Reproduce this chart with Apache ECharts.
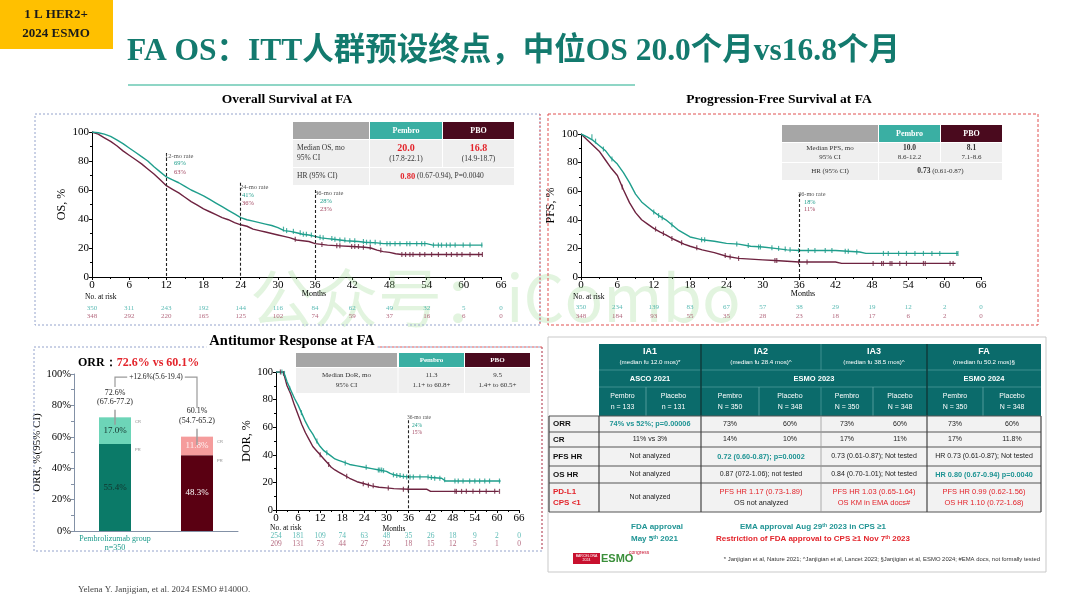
<!DOCTYPE html>
<html>
<head>
<meta charset="utf-8">
<script src="https://cdn.jsdelivr.net/npm/echarts/dist/echarts.min.js"></script>
<style>
html,body{margin:0;padding:0;background:#ffffff;}
#chart{width:1080px;height:608px;}
</style>
</head>
<body>
<div id="chart"></div>
<script>
// ================= DATA =================
const kmMonths = [0,6,12,18,24,30,36,42,48,54,60,66];

// Overall survival (month, %)
const osPembro = [[0,100],[1,99.5],[2,98.5],[3,97],[4,94.5],[5,92],[6,89],[7,86],[8,83],[9,80],[10,76],[11,72.5],[12,69],[13,67],[14,65],[15,62.5],[16,60],[17,58],[18,56],[19,53.5],[20,51],[21,48.5],[22,46],[23,43.5],[24,41],[25,39.5],[26,38.5],[27,37.5],[28,36.5],[29,35.5],[30,34],[31,32],[32,31.5],[33,30.5],[34,29.5],[35,29],[36,28],[37,27],[38,26.5],[39,26],[40,25.5],[41,25],[43,24.5],[44,24],[46,23.5],[47,23],[54,23],[55,22],[63,22]];
const osPbo = [[0,100],[1,98.5],[2,96],[3,93.5],[4,90.5],[5,87],[6,84],[7,81],[8,78],[9,74.5],[10,71],[11,67],[12,63],[13,60.5],[14,58],[15,55],[16,52],[17,49.5],[18,47],[19,45],[20,43],[21,41],[22,39.5],[23,37.5],[24,36],[25,35],[26,33],[27,32],[28,31],[29,30],[30,29],[31,28],[32,27],[33,25.5],[34,25],[35,24.5],[36,23],[37,22.5],[38,22],[40,21.5],[42,21],[44,20.5],[45,20],[46,18.5],[47,17.5],[48,17],[49,16],[50,15.5],[63,15.5]];
const osCensorPembro = [[30.9,33],[31.4,32],[32.5,31.5],[33.6,30.5],[34.1,29.5],[34.6,29.5],[35.4,29],[36.8,27.5],[37.3,27],[38.7,26.5],[39.2,26],[40,25.5],[40.8,25.5],[41.6,25],[42.4,25],[43.8,24.5],[44.3,24],[44.9,24],[45.7,24],[46.5,23.5],[47.6,23],[48.1,23],[48.9,23],[49.7,23],[50.8,23],[51.3,23],[52.4,23],[53.2,23],[53.7,23],[55.1,22],[55.9,22],[56.4,22],[57.2,22],[57.8,22],[58.6,22],[59.9,22],[61,22],[62.9,22]];
const osCensorPbo = [[32.8,26],[37.1,22.5],[39.5,21.5],[40,21.5],[41.9,21],[42.4,21],[43,21],[43.8,20.5],[44.9,20.5],[46.6,18.5],[50,15.5],[50.6,15.5],[51.3,15.5],[51.8,15.5],[52.9,15.5],[53.7,15.5],[54.8,15.5],[55.9,15.5],[57.2,15.5],[58,15.5],[58.9,15.5],[59.7,15.5],[61,15.5],[62.4,15.5],[63,15.5]];
const osRiskPembro = [350,311,243,192,144,116,84,62,49,32,5,0];
const osRiskPbo = [348,292,220,165,125,102,74,59,37,16,6,0];

// Progression-free survival
const pfsPembro = [[0,100],[1,98],[2,95.5],[3,92],[4,88.5],[5,83],[6,79],[7,73],[8,66],[9,58],[10,52.5],[11,49],[12,45.5],[13,42.5],[14,40],[15,36.5],[16,33],[17,30.5],[18,28],[19,27],[20,26],[22,25],[24,23.5],[26,23],[28,21.5],[30,21],[32,20],[34,19],[36,18.5],[42,18.5],[44,18],[46,17.5],[47,16.5],[62.2,16.5]];
const pfsPbo = [[0,100],[1,96],[2,92],[3,88],[4,82],[5,76],[6,71],[7,61],[8,52],[9,45],[10,40],[11,37],[12,34],[13,31.5],[14,29.5],[15,27],[16,25],[17,23],[18,21.5],[20,19],[22,17],[24,14.5],[26,13],[28,12.5],[30,12],[32,11.5],[34,11],[36,10.5],[42,10.5],[43,9.5],[61.8,9.5]];
const pfsCensorPembro = [[1.8,98],[2.4,95],[3.7,89.5],[5.1,82.5],[12,45.5],[12.8,43],[13.4,41.5],[15,36.5],[19.9,26],[20.4,26],[25.7,23],[27.6,22],[29.3,21],[29.6,21],[31.5,20.5],[32.6,20],[33.7,19.5],[34.5,19],[35.9,18.5],[37.5,18.5],[38.6,18.5],[40.3,18.5],[41.4,18.5],[43.6,18],[44.1,18],[45.5,17.5],[49.9,16.5],[50.7,16.5],[52.4,16.5],[53.7,16.5],[55.1,16.5],[56.5,16.5],[57.9,16.5],[59.2,16.5],[62,16.5],[62.2,16.5]];
const pfsCensorPbo = [[6.8,63],[12.3,33.5],[13.6,30.5],[15,27],[16.6,24],[19.1,20.5],[23.8,15],[24.6,14],[26,13],[32,11.5],[32.3,11.5],[35.9,10.5],[37.3,10.5],[48.2,9.5],[49.6,9.5],[49.9,9.5],[51,9.5],[51.3,9.5],[52.6,9.5],[53.7,9.5],[56.5,9.5],[56.8,9.5],[60.9,9.5],[61.4,9.5]];
const pfsRiskPembro = [350,234,139,83,67,57,38,29,19,12,2,0];
const pfsRiskPbo = [348,184,93,55,35,28,23,18,17,6,2,0];

// Duration of response
const dorPembro = [[0,100],[2,100],[2.5,97],[3,93],[4,87],[5,81],[6,76],[7,70],[8,64],[9,59],[10,55],[11,50],[12,46],[13,43],[14,41],[15,39],[16,37],[17,36],[18,35],[20,33],[22,32],[24,31],[26,30],[28,29],[30,28],[31,26.5],[32,25.5],[34,24.5],[36,24],[41,24],[42,23.5],[45,23],[46,21],[61,21]];
const dorPbo = [[0,100],[2,100],[3,90],[4,84],[5,76],[6,69],[7,62],[8,56],[9,51],[10,46],[11,43],[12,40],[13,37],[14,34],[15,31],[16,29],[17,27.5],[18,26],[20,23],[22,20.5],[24,19],[26,17.5],[28,16.5],[30,16],[32,15.5],[36,15],[41,15],[42,13.5],[60.5,13.5]];
const dorCensorPembro = [[1.6,100],[2.3,99],[3.7,88],[6.9,70.5],[11.1,50],[13.8,41.5],[18.8,34],[24.5,31],[27.8,29],[28.2,29],[28.7,29],[29.2,28.5],[31.9,25.5],[32.8,25],[33.7,25],[34.6,24.5],[35.5,24],[36.4,24],[37.3,24],[39.1,24],[41.3,24],[42.2,23.5],[43.1,23],[44.5,23],[45.8,22],[48.6,21],[49.5,21],[50.8,21],[52.6,21],[54,21],[55.3,21],[56.7,21],[58,21],[60.7,21]];
const dorCensorPbo = [[1.2,100],[2.1,99],[12,40],[14.3,33],[19.2,24.5],[23.7,19],[25.1,18],[26.4,17.5],[30.5,16],[34.6,15],[35.9,15],[48.6,13.5],[49,13.5],[50.4,13.5],[51.7,13.5],[53.5,13.5],[55.3,13.5],[57.1,13.5],[59.4,13.5],[60.7,13.5]];
const dorRiskPembro = [254,181,109,74,63,48,35,26,18,9,2,0];
const dorRiskPbo = [209,131,73,44,27,23,18,15,12,5,1,0];

// Objective response rate
const orrGroups = ['Pembrolizumab group\nn=350','Placebo group\nN=348'];
const orrPR = [55.4, 48.3];
const orrCR = [17.0, 11.8];
const orrTotal = [72.6, 60.1];
const orrCI = [[67.6,77.2],[54.7,65.2]];
const orrDiff = '+12.6%(5.6-19.4)';

// Summary table
const iaNames = ['IA1','IA2','IA3','FA'];
const iaFu = ['(median fu 12.0 mos)*','(median fu 28.4 mos)^','(median fu 38.5 mos)^','(median fu 50.2 mos)§'];
const congresses = ['ASCO 2021','ESMO 2023','ESMO 2024'];
const armLabels = ['Pembro\nn = 133','Placebo\nn = 131','Pembro\nN = 350','Placebo\nN = 348','Pembro\nN = 350','Placebo\nN = 348','Pembro\nN = 350','Placebo\nN = 348'];
const rowLabels = ['ORR','CR','PFS HR','OS HR','PD-L1\nCPS <1'];
const tableCells = [
  [['74% vs 52%; p=0.00006',2,'hl'],['73%',1],['60%',1],['73%',1],['60%',1],['73%',1],['60%',1]],
  [['11% vs 3%',2],['14%',1],['10%',1],['17%',1],['11%',1],['17%',1],['11.8%',1]],
  [['Not analyzed',2],['0.72 (0.60-0.87); p=0.0002',2,'hl'],['0.73 (0.61-0.87); Not tested',2],['HR 0.73 (0.61-0.87); Not tested',2]],
  [['Not analyzed',2],['0.87 (072-1.06); not tested',2],['0.84 (0.70-1.01); Not tested',2],['HR 0.80 (0.67-0.94) p=0.0040',2,'hl']],
  [['Not analyzed',2],['{r|PFS HR 1.17 (0.73-1.89)}\n{k|OS not analyzed}',2,'rich'],['{r|PFS HR 1.03 (0.65-1.64)}\n{r|OS KM in EMA docs#}',2,'rich'],['{r|PFS HR 0.99 (0.62-1.56)}\n{r|OS HR 1.10 (0.72-1.68)}',2,'rich']]
];

// ================= STYLE / LAYOUT =================
const SERIF = "'Liberation Serif','Times New Roman',serif";
const SANS = "'Liberation Sans',Arial,sans-serif";
const TEAL = '#1f9e8c', MAROON = '#6e2340';
const RISK_TEAL = '#33aaa2', RISK_MAROON = '#a0445f';
const HL = '#1f9494', RED = '#e3242b';

const G = [];
function T(x, y, text, o) {
  o = o || {};
  const st = {text: text, fill: o.c || '#000', fontSize: o.s || 8, fontFamily: o.f || SERIF,
    fontWeight: o.b ? 'bold' : 'normal', align: o.a || 'left', verticalAlign: o.v || 'middle'};
  if (o.lh) st.lineHeight = o.lh;
  if (o.rich) st.rich = o.rich;
  if (o.bg) { st.backgroundColor = o.bg; st.padding = o.pad || [0, 2]; }
  G.push({type: 'text', x: x, y: y, z: o.z || 20, silent: true, style: st});
}
function R(x, y, w, h, fill, o) {
  o = o || {};
  const st = {fill: fill || 'none'};
  if (o.stroke) { st.stroke = o.stroke; st.lineWidth = o.lw || 1; }
  if (o.dash) st.lineDash = o.dash;
  G.push({type: 'rect', z: o.z || 10, silent: true, shape: {x: x, y: y, width: w, height: h}, style: st});
}
function L(x1, y1, x2, y2, stroke, o) {
  o = o || {};
  const st = {stroke: stroke, lineWidth: o.lw || 1};
  if (o.dash) st.lineDash = o.dash;
  G.push({type: 'line', z: o.z || 12, silent: true, shape: {x1: x1, y1: y1, x2: x2, y2: y2}, style: st});
}

// ---- header ----
R(0, 0, 113, 49, '#ffc000', {z: 5});
T(56, 15, '1 L HER2+', {s: 13, b: 1, a: 'center', c: '#1a1a1a'});
T(56, 34, '2024 ESMO', {s: 13, b: 1, a: 'center', c: '#1a1a1a'});
T(127, 52, 'FA OS：ITT人群预设终点，中位OS 20.0个月vs16.8个月', {s: 31.5, b: 1, c: '#137a6e', f: "'Liberation Serif','Noto Sans CJK SC',serif"});
L(128, 85, 635, 85, '#8fd6c6', {lw: 2});

// watermark
T(250, 298, '公众号：iCombo', {s: 64, c: 'rgba(150,215,140,0.28)', f: "'Noto Sans CJK SC',sans-serif", z: 1});

// ---- panel boxes ----
R(35, 114, 505, 211, null, {stroke: '#94a3cc', dash: [2, 2], z: 1});
L(540, 114, 540, 325, '#e05a5a', {dash: [2, 2], z: 1});
R(548, 114, 490, 211, null, {stroke: '#e05050', dash: [3, 2], z: 1});
R(34, 347, 508, 204, null, {stroke: '#94a3cc', dash: [2, 2], z: 1});
L(542, 347, 542, 551, '#e05a5a', {dash: [2, 2], z: 1});
L(300, 347, 542, 347, '#e05a5a', {dash: [2, 2], z: 1});
R(548, 337, 498, 235, null, {stroke: '#c9c9c9', z: 1});

T(287, 100, 'Overall Survival at FA', {s: 13.5, b: 1, a: 'center'});
T(779, 100, 'Progression-Free Survival at FA', {s: 13.5, b: 1, a: 'center'});
T(292, 341, 'Antitumor Response at FA', {s: 14.5, b: 1, a: 'center', bg: '#fff', pad: [0, 3]});

// ---- OS inline table ----
R(293, 122, 76, 17, '#a6a6a6');
R(370, 122, 72, 17, '#3aafa3');
R(443, 122, 71, 17, '#4a0a1e');
T(406, 130.5, 'Pembro', {s: 8, b: 1, c: '#fff', a: 'center'});
T(478.5, 130.5, 'PBO', {s: 8, b: 1, c: '#fff', a: 'center'});
R(293, 140, 221, 27, '#efefef');
R(293, 168, 221, 17, '#efefef');
L(369.5, 140, 369.5, 185, '#fff'); L(442.5, 140, 442.5, 167, '#fff');
T(297, 148.5, 'Median OS, mo', {s: 7.5, c: '#333'});
T(297, 158, '95% CI', {s: 7.5, c: '#333'});
T(406, 148, '20.0', {s: 10, b: 1, c: RED, a: 'center'});
T(406, 159, '(17.8-22.1)', {s: 7.5, c: '#333', a: 'center'});
T(478.5, 148, '16.8', {s: 10, b: 1, c: RED, a: 'center'});
T(478.5, 159, '(14.9-18.7)', {s: 7.5, c: '#333', a: 'center'});
T(297, 176.5, 'HR (95% CI)', {s: 7.5, c: '#333'});
T(442, 176.5, '{b|0.80} (0.67-0.94), P=0.0040', {s: 7.5, c: '#333', a: 'center',
  rich: {b: {fill: RED, fontWeight: 'bold', fontSize: 8.5, fontFamily: SERIF}}});
// OS rate annotations
T(165, 156, '12-mo rate', {s: 6.5, c: '#555'});
T(174, 163.5, '69%', {s: 6.5, c: TEAL});
T(174, 172, '63%', {s: 6.5, c: '#a0445f'});
T(240, 187, '24-mo rate', {s: 6.5, c: '#555'});
T(242, 195.5, '41%', {s: 6.5, c: TEAL});
T(242, 203.5, '36%', {s: 6.5, c: '#a0445f'});
T(315, 193, '36-mo rate', {s: 6.5, c: '#555'});
T(320, 201, '28%', {s: 6.5, c: TEAL});
T(320, 209.5, '23%', {s: 6.5, c: '#a0445f'});
T(85, 297, 'No. at risk', {s: 7.5});
T(314, 294, 'Months', {s: 8, a: 'center'});

// ---- PFS inline table ----
R(782, 125, 96, 17, '#a6a6a6');
R(879, 125, 61, 17, '#3aafa3');
R(941, 125, 61, 17, '#4a0a1e');
T(909.5, 133.5, 'Pembro', {s: 8, b: 1, c: '#fff', a: 'center'});
T(971.5, 133.5, 'PBO', {s: 8, b: 1, c: '#fff', a: 'center'});
R(782, 143, 220, 19, '#efefef');
R(782, 163, 220, 17, '#efefef');
L(878.5, 143, 878.5, 180, '#fff'); L(940.5, 143, 940.5, 162, '#fff');
T(830, 148, 'Median PFS, mo', {s: 7, c: '#333', a: 'center'});
T(830, 157, '95% CI', {s: 7, c: '#333', a: 'center'});
T(909.5, 148, '10.0', {s: 7.5, b: 1, c: '#333', a: 'center'});
T(909.5, 157, '8.6-12.2', {s: 7, c: '#333', a: 'center'});
T(971.5, 148, '8.1', {s: 7.5, b: 1, c: '#333', a: 'center'});
T(971.5, 157, '7.1-8.6', {s: 7, c: '#333', a: 'center'});
T(830, 171, 'HR (95% CI)', {s: 7, c: '#333', a: 'center'});
T(940.5, 171, '{b|0.73} (0.61-0.87)', {s: 7, c: '#333', a: 'center',
  rich: {b: {fill: '#333', fontWeight: 'bold', fontSize: 7.5, fontFamily: SERIF}}});
T(798, 194, '36-mo rate', {s: 6.3, c: '#555'});
T(804, 202, '18%', {s: 6.3, c: TEAL});
T(804, 209.5, '11%', {s: 6.3, c: '#a0445f'});
T(573, 297.5, 'No. at risk', {s: 7.5});
T(803, 294, 'Months', {s: 8, a: 'center'});

// ---- ORR title ----
T(78, 363, '{a|ORR：}{b|72.6% vs 60.1%}', {s: 12, b: 1,
  rich: {a: {fill: '#000', fontWeight: 'bold', fontSize: 12, fontFamily: SERIF},
         b: {fill: RED, fontWeight: 'bold', fontSize: 12, fontFamily: SERIF}}});

// ---- DOR inline table ----
R(296, 353, 101, 14, '#a6a6a6');
R(399, 353, 65, 14, '#3aafa3');
R(465, 353, 65, 14, '#4a0a1e');
T(431.5, 360, 'Pembro', {s: 7, b: 1, c: '#fff', a: 'center'});
T(497.5, 360, 'PBO', {s: 7, b: 1, c: '#fff', a: 'center'});
R(296, 368, 234, 25, '#efefef');
L(398, 368, 398, 393, '#fff'); L(464.5, 368, 464.5, 393, '#fff');
T(346.5, 375.5, 'Median DoR, mo', {s: 7, c: '#333', a: 'center'});
T(346.5, 385, '95% CI', {s: 7, c: '#333', a: 'center'});
T(431.5, 375.5, '11.3', {s: 7, c: '#333', a: 'center'});
T(431.5, 385, '1.1+ to 60.8+', {s: 7, c: '#333', a: 'center'});
T(497.5, 375.5, '9.5', {s: 7, c: '#333', a: 'center'});
T(497.5, 385, '1.4+ to 60.5+', {s: 7, c: '#333', a: 'center'});
T(407, 418, '36-mo rate', {s: 5.5, c: '#555'});
T(412, 425.5, '24%', {s: 5.5, c: TEAL});
T(412, 433, '15%', {s: 5.5, c: '#a0445f'});
T(270, 528, 'No. at risk', {s: 7.5});
T(394, 529, 'Months', {s: 7.5, a: 'center'});

// ---- summary table ----
const tbX = [549, 599, 646, 701, 759, 821, 873, 927, 983, 1041];
const tbY = [344, 370, 387, 416, 432, 447, 466, 483, 512];
const TBH = '#0b6b6b';
R(599, 344, 442, 72, TBH);
const grpX = [[599, 701], [701, 821], [821, 927], [927, 1041]];
iaNames.forEach((n, i) => {
  const cx = (grpX[i][0] + grpX[i][1]) / 2;
  T(cx, 351.5, n, {c: '#fff', b: 1, s: 9, f: SANS, a: 'center'});
  T(cx, 362.5, iaFu[i], {c: '#fff', s: 6.2, f: SANS, a: 'center'});
});
const confX = [[599, 701], [701, 927], [927, 1041]];
congresses.forEach((n, i) => {
  T((confX[i][0] + confX[i][1]) / 2, 378.5, n, {c: '#fff', b: 1, s: 7.5, f: SANS, a: 'center'});
});
armLabels.forEach((t, i) => {
  T((tbX[i + 1] + tbX[i + 2]) / 2, 401.5, t, {c: '#fff', s: 7, f: SANS, a: 'center', lh: 10.5});
});
L(599, 370, 1041, 370, '#4d9a9a', {lw: 0.8});
L(599, 387, 1041, 387, '#4d9a9a', {lw: 0.8});
L(701, 344, 701, 416, '#0f3b3b', {lw: 1.5});
L(927, 344, 927, 416, '#0f3b3b', {lw: 1.5});
L(821, 344, 821, 370, '#4d9a9a', {lw: 0.8});
L(821, 387, 821, 416, '#4d9a9a', {lw: 0.8});
[646, 759, 873, 983].forEach(x => L(x, 387, x, 416, '#6fb0b0', {lw: 0.7}));
R(549, 416, 492, 96, '#f2f2f2');
for (let r = 3; r < tbY.length; r++) L(549, tbY[r], 1041, tbY[r], '#555', {lw: 1});
[549, 599, 701, 927, 1041].forEach(x => L(x, 416, x, 512, '#444', {lw: 1.2}));
L(821, 416, 821, 512, '#999', {lw: 0.8});
rowLabels.forEach((lab, r) => {
  const cy = (tbY[r + 3] + tbY[r + 4]) / 2;
  const isRed = r === 4;
  T(553, cy, lab, {s: 8, b: 1, f: SANS, c: isRed ? RED : '#111', lh: 11});
});
tableCells.forEach((row, r) => {
  const cy = (tbY[r + 3] + tbY[r + 4]) / 2;
  let col = 0;
  row.forEach(cell => {
    const span = cell[1] || 1;
    const x0 = tbX[1 + col], x1 = tbX[1 + col + span];
    const cx = (x0 + x1) / 2;
    if (cell[2] === 'hl') {
      T(cx, cy, cell[0], {s: 7.3, b: 1, f: SANS, c: HL, a: 'center'});
    } else if (cell[2] === 'rich') {
      T(cx, cy, cell[0], {s: 7.3, f: SANS, a: 'center', lh: 11,
        rich: {r: {fill: RED, fontSize: 7.5, fontFamily: SANS, lineHeight: 11},
               k: {fill: '#222', fontSize: 7.3, fontFamily: SANS, lineHeight: 11}}});
    } else {
      T(cx, cy, cell[0], {s: 7, f: SANS, c: '#222', a: 'center'});
    }
    col += span;
  });
});
// approvals & footnotes
const supRich = (color) => ({
  n: {fill: color, fontWeight: 'bold', fontSize: 8, fontFamily: SANS},
  s: {fill: color, fontWeight: 'bold', fontSize: 5, fontFamily: SANS, verticalAlign: 'top', padding: [0, 0, 3, 0]}
});
T(631, 527, 'FDA approval', {s: 8, b: 1, f: SANS, c: HL});
T(631, 539, '{n|May 5}{s|th}{n| 2021}', {s: 8, f: SANS, rich: supRich(HL)});
T(813, 527, '{n|EMA approval Aug 29}{s|th}{n| 2023 in CPS ≥1}', {s: 8, f: SANS, a: 'center', rich: supRich(HL)});
T(813, 539, '{n|Restriction of FDA approval to CPS ≥1 Nov 7}{s|th}{n| 2023}', {s: 8, f: SANS, a: 'center', rich: supRich(RED)});
R(573, 553, 27, 11, '#c8102e', {z: 15});
T(586.5, 558.5, 'BARCELONA\n2024', {s: 3.5, c: '#fff', f: SANS, a: 'center', lh: 4});
T(601, 558.5, 'ESMO', {s: 11, b: 1, f: SANS, c: '#3a8f3a'});
T(629, 553, 'congress', {s: 5, f: SANS, c: '#c8102e'});
T(1040, 559, '* Janjigian et al, Nature 2021; ^Janjigian et al, Lancet 2023; §Janjigian et al, ESMO 2024; #EMA docs, not formally tested', {s: 5.9, f: SANS, c: '#333', a: 'right'});
T(78, 590, 'Yelena Y. Janjigian, et al. 2024 ESMO #1400O.', {s: 9, c: '#444'});

// ================= CHART =================
function kmX(gi, fs) {
  return {type: 'value', gridIndex: gi, min: 0, max: 66, interval: 6,
    axisLine: {show: true, onZero: false, lineStyle: {color: '#000', width: 1}},
    axisTick: {show: true, length: 3, lineStyle: {color: '#000'}},
    minorTick: {show: true, splitNumber: 2, length: 2, lineStyle: {color: '#000'}},
    axisLabel: {show: true, fontSize: fs || 11, color: '#000', fontFamily: SERIF, margin: 3},
    splitLine: {show: false}, minorSplitLine: {show: false}};
}
function kmY(gi, name, gap, fs) {
  return {type: 'value', gridIndex: gi, min: 0, max: 100, interval: 20,
    name: name, nameLocation: 'middle', nameGap: gap,
    nameTextStyle: {fontSize: 12, fontFamily: SERIF, color: '#000'},
    axisLine: {show: true, lineStyle: {color: '#000'}},
    axisTick: {show: true, length: 3, lineStyle: {color: '#000'}},
    minorTick: {show: true, splitNumber: 2, length: 2, lineStyle: {color: '#000'}},
    axisLabel: {fontSize: fs || 11, color: '#000', fontFamily: SERIF, margin: 3},
    splitLine: {show: false}, minorSplitLine: {show: false}};
}
function riskX(gi) { return {type: 'value', gridIndex: gi, min: 0, max: 66, show: false}; }
function riskY(gi) { return {type: 'category', gridIndex: gi, data: ['Pembro', 'PBO'], inverse: true, show: false}; }
function kmLine(ai, data, color, extra) {
  return Object.assign({type: 'line', xAxisIndex: ai, yAxisIndex: ai, data: data, symbol: 'none', showSymbol: false,
    lineStyle: {color: color, width: 1.4}, itemStyle: {color: color}, silent: true, z: 3}, extra || {});
}
function censor(ai, data, color) {
  return {type: 'scatter', xAxisIndex: ai, yAxisIndex: ai, data: data, symbol: 'rect', symbolSize: [1.2, 5],
    itemStyle: {color: color}, silent: true, z: 4};
}
function risk(ai, vals, row, color, fs) {
  return {type: 'scatter', xAxisIndex: ai, yAxisIndex: ai, data: kmMonths.map((m, i) => [m, row, vals[i]]),
    symbolSize: 0.1, itemStyle: {color: 'transparent'}, silent: true,
    label: {show: true, position: 'inside', formatter: p => String(p.value[2]), color: color, fontSize: fs || 7, fontFamily: SERIF}};
}
function rateLines(list) {
  return {symbol: ['none', 'none'], silent: true, animation: false,
    lineStyle: {type: [3, 2], color: '#222', width: 1.1}, label: {show: false},
    data: list.map(([m, top]) => [{coord: [m, top]}, {coord: [m, 0]}])};
}

const PR_COLORS = ['#0b7a68', '#5a0012'];
const CR_COLORS = ['#6dd5b8', '#f59c9c'];
const PR_LABEL = ['#13332c', '#ffffff'];
const CR_LABEL = ['#13332c', '#fff2f2'];
const ORR_AXIS = '#8391a6';

const option = {
  animation: false,
  backgroundColor: '#ffffff',
  textStyle: {fontFamily: SERIF},
  grid: [
    {left: 92, top: 132, width: 409, height: 145},
    {left: 92, top: 303.5, width: 409, height: 17},
    {left: 581, top: 134, width: 400, height: 143},
    {left: 581, top: 303, width: 400, height: 17},
    {left: 74, top: 374, width: 164, height: 157},
    {left: 276, top: 372, width: 243, height: 138},
    {left: 276, top: 532, width: 243, height: 16}
  ],
  xAxis: [
    kmX(0), riskX(1), kmX(2), riskX(3),
    {type: 'category', gridIndex: 4, data: orrGroups,
      axisLine: {show: true, lineStyle: {color: ORR_AXIS}}, axisTick: {show: false},
      axisLabel: {fontSize: 8, fontFamily: SERIF, margin: 3, lineHeight: 9,
        color: (v, i) => (i === 0 ? '#1a9a8a' : '#8a2040')}},
    kmX(5, 11), riskX(6)
  ],
  yAxis: [
    kmY(0, 'OS, %', 24), riskY(1), kmY(2, 'PFS, %', 24), riskY(3),
    {type: 'value', gridIndex: 4, min: 0, max: 100, interval: 20,
      name: 'ORR, %(95% CI)', nameLocation: 'middle', nameGap: 29,
      nameTextStyle: {fontSize: 11, fontFamily: SERIF, color: '#000'},
      axisLine: {show: true, lineStyle: {color: ORR_AXIS}},
      axisTick: {show: true, length: 3, lineStyle: {color: ORR_AXIS}},
      minorTick: {show: true, splitNumber: 2, length: 3, lineStyle: {color: ORR_AXIS}},
      axisLabel: {fontSize: 10.5, color: '#000', fontFamily: SERIF, margin: 3, formatter: '{value}%'},
      splitLine: {show: false}, minorSplitLine: {show: false}},
    kmY(5, 'DOR, %', 23, 10.5), riskY(6)
  ],
  graphic: {elements: G},
  series: [
    // OS
    kmLine(0, osPbo, MAROON),
    kmLine(0, osPembro, TEAL, {markLine: rateLines([[12, 85.5], [24, 65], [36, 60]])}),
    censor(0, osCensorPbo, MAROON),
    censor(0, osCensorPembro, TEAL),
    risk(1, osRiskPembro, 0, RISK_TEAL),
    risk(1, osRiskPbo, 1, RISK_MAROON),
    // PFS
    kmLine(2, pfsPbo, MAROON),
    kmLine(2, pfsPembro, TEAL, {markLine: rateLines([[36, 58]])}),
    censor(2, pfsCensorPbo, MAROON),
    censor(2, pfsCensorPembro, TEAL),
    risk(3, pfsRiskPembro, 0, RISK_TEAL),
    risk(3, pfsRiskPbo, 1, RISK_MAROON),
    // ORR bars
    {type: 'bar', xAxisIndex: 4, yAxisIndex: 4, stack: 'orr', barWidth: 32, silent: true,
      data: orrPR.map((v, i) => ({value: v, itemStyle: {color: PR_COLORS[i]}, label: {color: PR_LABEL[i]}})),
      label: {show: true, position: 'inside', formatter: p => p.value.toFixed(1) + '%', fontSize: 9, fontFamily: SERIF}},
    {type: 'bar', xAxisIndex: 4, yAxisIndex: 4, stack: 'orr', barWidth: 32, silent: true,
      data: orrCR.map((v, i) => ({value: v, itemStyle: {color: CR_COLORS[i]}, label: {color: CR_LABEL[i]}})),
      label: {show: true, position: 'inside', formatter: p => p.value.toFixed(1) + '%', fontSize: 9, fontFamily: SERIF}},
    {type: 'custom', xAxisIndex: 4, yAxisIndex: 4, silent: true, z: 5,
      data: orrCI.map((ci, i) => [i, ci[0], ci[1]]),
      renderItem: (params, api) => {
        const i = params.dataIndex;
        const lo = api.coord([api.value(0), api.value(1)]);
        const hi = api.coord([api.value(0), api.value(2)]);
        const prTop = api.coord([i, orrPR[i]]);
        const crTop = api.coord([i, orrPR[i] + orrCR[i]]);
        return {type: 'group', children: [
          {type: 'line', shape: {x1: lo[0], y1: lo[1], x2: hi[0], y2: hi[1]}, style: {stroke: '#9a9a9a', lineWidth: 1.4}},
          {type: 'text', style: {x: hi[0], y: hi[1] - 3, text: orrTotal[i].toFixed(1) + '%\n(' + orrCI[i][0] + '-' + orrCI[i][1] + ')',
            align: 'center', verticalAlign: 'bottom', fontSize: 8, fontFamily: SERIF, fill: '#222', lineHeight: 9.5}},
          {type: 'text', style: {x: crTop[0] + 20, y: crTop[1] + 5, text: 'CR', fontSize: 4, fontFamily: SANS, fill: '#888', verticalAlign: 'middle'}},
          {type: 'text', style: {x: prTop[0] + 20, y: prTop[1] + 6, text: 'PR', fontSize: 4, fontFamily: SANS, fill: '#888', verticalAlign: 'middle'}}
        ]};
      }},
    {type: 'custom', xAxisIndex: 4, yAxisIndex: 4, silent: true, z: 6, data: [[0, 1]],
      renderItem: (params, api) => {
        const a = api.coord([0, 91.7]), b = api.coord([0, 98]), c = api.coord([1, 98]), d = api.coord([1, 78.4]);
        return {type: 'group', children: [
          {type: 'polyline', shape: {points: [a, b, c, d]}, style: {stroke: '#9a9a9a', lineWidth: 1.2, fill: 'none'}},
          {type: 'text', z2: 10, style: {x: (b[0] + c[0]) / 2, y: b[1], text: orrDiff, align: 'center', verticalAlign: 'middle',
            fontSize: 7.5, fontFamily: SERIF, fill: '#222', backgroundColor: '#fff', padding: [0, 2]}}
        ]};
      }},
    // DOR
    kmLine(5, dorPbo, MAROON),
    kmLine(5, dorPembro, TEAL, {markLine: rateLines([[36, 65]])}),
    censor(5, dorCensorPbo, MAROON),
    censor(5, dorCensorPembro, TEAL),
    risk(6, dorRiskPembro, 0, RISK_TEAL, 7.5),
    risk(6, dorRiskPbo, 1, RISK_MAROON, 7.5)
  ]
};

const chart = echarts.init(document.getElementById('chart'), null, {renderer: 'canvas'});
chart.setOption(option);
</script>
</body>
</html>
